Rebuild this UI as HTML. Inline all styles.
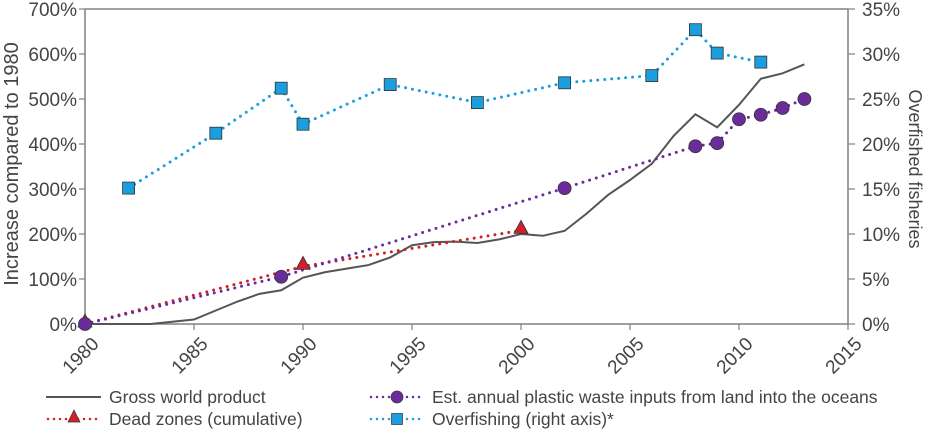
<!DOCTYPE html>
<html><head><meta charset="utf-8"><style>
body{margin:0;background:#fff;}
svg{display:block;font-family:"Liberation Sans",sans-serif;}
</style></head><body>
<svg id="c" width="926" height="431"></svg>
<script>
const gwpYears=[1980,1983,1985,1986,1987,1988,1989,1990,1991,1992,1993,1994,1995,1996,1997,1998,1999,2000,2001,2002,2003,2004,2005,2006,2007,2008,2009,2010,2011,2012,2013];
const gwpValues=[0,0,10,30,50,67,75,103,115,123,131,148,175,182,183,180,188,200,196,207,245,287,320,356,418,466,437,487,545,557,577];
const plasticYears=[1980,1989,2002,2008,2009,2010,2011,2012,2013];
const plasticValues=[0,105,302,395,402,455,465,480,500];
const deadYears=[1980,1990,2000];
const deadValues=[0,128,208];
const fishYears=[1982,1986,1989,1990,1994,1998,2002,2006,2008,2009,2011];
const fishValues=[15.1,21.2,26.2,22.2,26.6,24.6,26.8,27.6,32.7,30.1,29.1];
const xTicks=[1980,1985,1990,1995,2000,2005,2010,2015];
const yTicks=[0,100,200,300,400,500,600,700];
const y2Ticks=[0,5,10,15,20,25,30,35];

const NS='http://www.w3.org/2000/svg';
const svg=document.getElementById('c');
const X0=85,X1=848,Y0=324,Y1=9;
const x=v=>X0+(v-1980)/(2015-1980)*(X1-X0);
const y=v=>Y0-v/700*(Y0-Y1);
const y2=v=>Y0-v/35*(Y0-Y1);
function el(t,a,p){const e=document.createElementNS(NS,t);for(const k in a)e.setAttribute(k,a[k]);(p||svg).appendChild(e);return e;}
const axisC='#808080',txtC='#444';
let a=el('line',{x1:X0,y1:Y1,x2:X0,y2:Y0,stroke:axisC,'stroke-width':1.5});


a=el('line',{x1:X1,y1:Y1,x2:X1,y2:Y0,stroke:axisC,'stroke-width':1.5});


a=el('line',{x1:X0,y1:Y0,x2:X1,y2:Y0,stroke:axisC,'stroke-width':1.5});


a=el('line',{x1:X0,y1:Y1,x2:X1,y2:Y1,stroke:axisC,'stroke-width':1.5});


yTicks.forEach(v=>{
 el('line',{x1:X0-6,y1:y(v),x2:X0,y2:y(v),stroke:axisC,'stroke-width':1.2});
 const t=el('text',{x:X0-8,y:y(v)+7,'text-anchor':'end','font-size':19,fill:txtC});t.textContent=v+'%';
 
 
});
y2Ticks.forEach(v=>{
 el('line',{x1:X1,y1:y2(v),x2:X1+7,y2:y2(v),stroke:axisC,'stroke-width':1.2});
 const t=el('text',{x:X1+14,y:y2(v)+7,'font-size':19,fill:txtC});t.textContent=v+'%';
 
 
});
xTicks.forEach(v=>{
 el('line',{x1:x(v),y1:Y0,x2:x(v),y2:Y0+6,stroke:axisC,'stroke-width':1.2});
 const t=el('text',{x:x(v)+15,y:Y0+21,'text-anchor':'end','font-size':19,fill:txtC,transform:`rotate(-45 ${x(v)+15} ${Y0+21})`});t.textContent=v;
 
 
});
let t=el('text',{x:0,y:0,'text-anchor':'middle','font-size':20,fill:txtC,transform:`translate(18 164) rotate(-90)`});t.textContent='Increase compared to 1980';


t=el('text',{x:0,y:0,'text-anchor':'middle','font-size':18,fill:txtC,transform:`translate(909 169) rotate(90)`});t.textContent='Overfished fisheries';



function pts(xs,vs,f){return xs.map((v,i)=>x(v)+','+f(vs[i])).join(' ');}
let p=el('polyline',{points:pts(gwpYears,gwpValues,y),fill:'none',stroke:'#555','stroke-width':2});


p=el('polyline',{points:pts(deadYears,deadValues,y),fill:'none',stroke:'#d0202a','stroke-width':3,'stroke-dasharray':'0 7','stroke-linecap':'round'});


p=el('polyline',{points:pts(plasticYears,plasticValues,y),fill:'none',stroke:'#6a2c9a','stroke-width':3,'stroke-dasharray':'0 7','stroke-linecap':'round'});


p=el('polyline',{points:pts(fishYears,fishValues,y2),fill:'none',stroke:'#1a9ee0','stroke-width':3,'stroke-dasharray':'0 7','stroke-linecap':'round'});


deadYears.forEach((v,i)=>{const cx=x(v),cy=y(deadValues[i]);
 const m=el('polygon',{points:`${cx},${cy-10} ${cx-7},${cy+3} ${cx+7},${cy+3}`,fill:'#d0202a',stroke:'#333','stroke-width':0.8});
 
 });
plasticYears.forEach((v,i)=>{
 const m=el('circle',{cx:x(v),cy:y(plasticValues[i]),r:6.5,fill:'#6a2c9a',stroke:'#333','stroke-width':0.8});
 
 });
fishYears.forEach((v,i)=>{
 const m=el('rect',{x:x(v)-6,y:y2(fishValues[i])-6,width:12,height:12,fill:'#1a9ee0',stroke:'#333','stroke-width':0.8});
 
 });

function leg(lx,ly,kind,label,name){
 const g=el('g',{});
 
 
 if(kind==='gwp'){el('line',{x1:lx,y1:ly,x2:lx+55,y2:ly,stroke:'#555','stroke-width':2},g);}
 else{const col={dead:'#d0202a',plastic:'#6a2c9a',fish:'#1a9ee0'}[kind];
  el('line',{x1:lx+2,y1:ly,x2:lx+55,y2:ly,stroke:col,'stroke-width':2.5,'stroke-dasharray':'0 6','stroke-linecap':'round'},g);
  const cx=lx+28;
  if(kind==='dead')el('polygon',{points:`${cx},${ly-9} ${cx-6},${ly+3} ${cx+6},${ly+3}`,fill:col,stroke:'#333','stroke-width':0.7},g);
  if(kind==='plastic')el('circle',{cx:cx,cy:ly,r:6,fill:col,stroke:'#333','stroke-width':0.7},g);
  if(kind==='fish')el('rect',{x:cx-5.5,y:ly-5.5,width:11,height:11,fill:col,stroke:'#333','stroke-width':0.7},g);}
 const tt=el('text',{x:lx+63,y:ly+6,'font-size':17.5,fill:txtC},g);tt.textContent=label;
}
leg(46,397,'gwp','Gross world product','legend-gwp');
leg(46,419,'dead','Dead zones (cumulative)','legend-dead-zones');
leg(369,397,'plastic','Est. annual plastic waste inputs from land into the oceans','legend-plastic');
leg(369,419,'fish','Overfishing (right axis)*','legend-overfishing');
</script>
</body></html>
